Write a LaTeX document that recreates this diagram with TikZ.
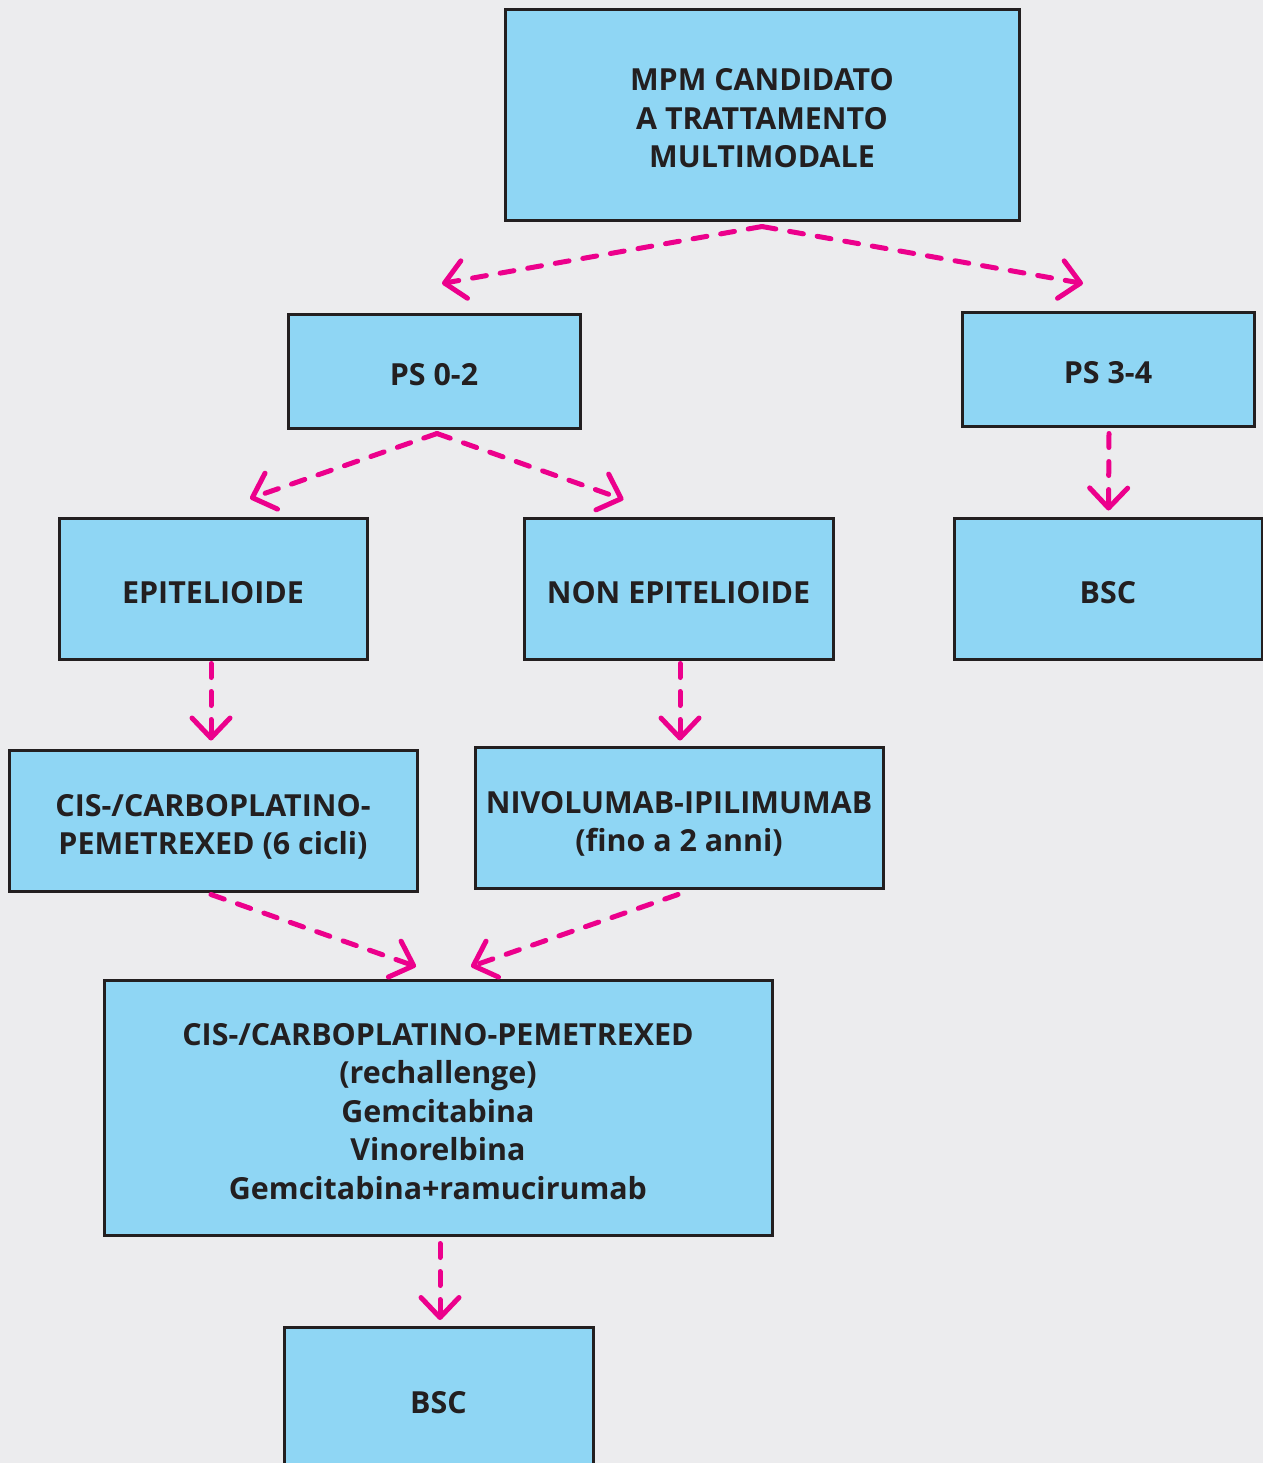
\documentclass[tikz,border=0pt]{standalone}
\usepackage{fontspec}
\setmainfont{Open Sans}
\usetikzlibrary{arrows.meta,calc}
\definecolor{bgc}{HTML}{ECECEE}
\definecolor{boxfill}{HTML}{8FD6F4}
\definecolor{boxline}{HTML}{231F20}
\definecolor{arrowc}{HTML}{EC008C}
\definecolor{textc}{HTML}{231F20}
\newcommand{\bx}[1]{\raisebox{0pt}[\dimexpr\height+7.2pt\relax][\depth]{\begin{tabular}{@{}c@{}}#1\end{tabular}}}
\begin{document}
\begin{tikzpicture}[x=0.5pt,y=-0.5pt,
  box/.style={draw=boxline,fill=boxfill,line width=1.5pt,rectangle,inner sep=0pt,
    text=textc,font=\fontsize{15.2}{19.2}\selectfont\bfseries},
  flow/.style={draw=arrowc,line width=2.5pt,line cap=round,dash pattern=on 7pt off 7pt,
    -{Straight Barb[length=10pt,width=19pt,round]}}]
\useasboundingbox (0,0) rectangle (1263,1463);
\clip (0,0) rectangle (1263,1463);
\fill[bgc] (0,0) rectangle (1263,1463);
\node[box,minimum width=257pt,minimum height=105.5pt] (top) at (762,114.5) {\bx{MPM CANDIDATO\\A TRATTAMENTO\\MULTIMODALE}};
\node[box,minimum width=146pt,minimum height=57pt] (ps02) at (434,371) {\bx{PS 0-2}};
\node[box,minimum width=146pt,minimum height=57pt] (ps34) at (1108,369) {\bx{PS 3-4}};
\node[box,minimum width=154pt,minimum height=70.5pt] (epi) at (213,588.5) {\bx{EPITELIOIDE}};
\node[box,minimum width=154.5pt,minimum height=70.5pt] (non) at (678.5,588.5) {\bx{NON EPITELIOIDE}};
\node[box,minimum width=154pt,minimum height=70.5pt] (bsca) at (1108,588.5) {\bx{BSC}};
\node[box,minimum width=204pt,minimum height=70.5pt] (cis) at (213,820.5) {\bx{CIS-/CARBOPLATINO-\\PEMETREXED (6 cicli)}};
\node[box,minimum width=204pt,minimum height=70.5pt] (nivo) at (679,817.5) {\bx{NIVOLUMAB-IPILIMUMAB\\(fino a 2 anni)}};
\node[box,minimum width=334pt,minimum height=127.5pt] (big) at (438,1107.5) {\bx{CIS-/CARBOPLATINO-PEMETREXED\\(rechallenge)\\Gemcitabina\\Vinorelbina\\Gemcitabina+ramucirumab}};
\node[box,minimum width=154.5pt,minimum height=71pt] (bscb) at (438.5,1398.5) {\bx{BSC}};
\draw[flow] ($(top.south)+(0,5)$) -- ($(ps02.north)+(8,-29)$);
\draw[flow] ($(top.south)+(0,5)$) -- ($(ps34.north)+(-25,-27)$);
\draw[flow] ($(ps02.south)+(3,4)$) -- ($(epi.north)+(37,-18)$);
\draw[flow] ($(ps02.south)+(3,4)$) -- ($(non.north)+(-55,-17)$);
\draw[flow] ($(ps34.south)+(1,6)$) -- ($(bsca.north)+(0.5,-6)$);
\draw[flow] ($(epi.south)+(-2,3)$) -- ($(cis.north)+(-2,-8)$);
\draw[flow] ($(non.south)+(1.5,3)$) -- ($(nivo.north)+(1,-5)$);
\draw[flow] ($(cis.south)+(-2,2)$) -- ($(big.north)+(-22,-12)$);
\draw[flow] ($(nivo.south)+(-1,5)$) -- ($(big.north)+(33,-12)$);
\draw[flow] ($(big.south)+(2,7)$) -- ($(bscb.north)+(1.5,-6)$);
\end{tikzpicture}
\end{document}
